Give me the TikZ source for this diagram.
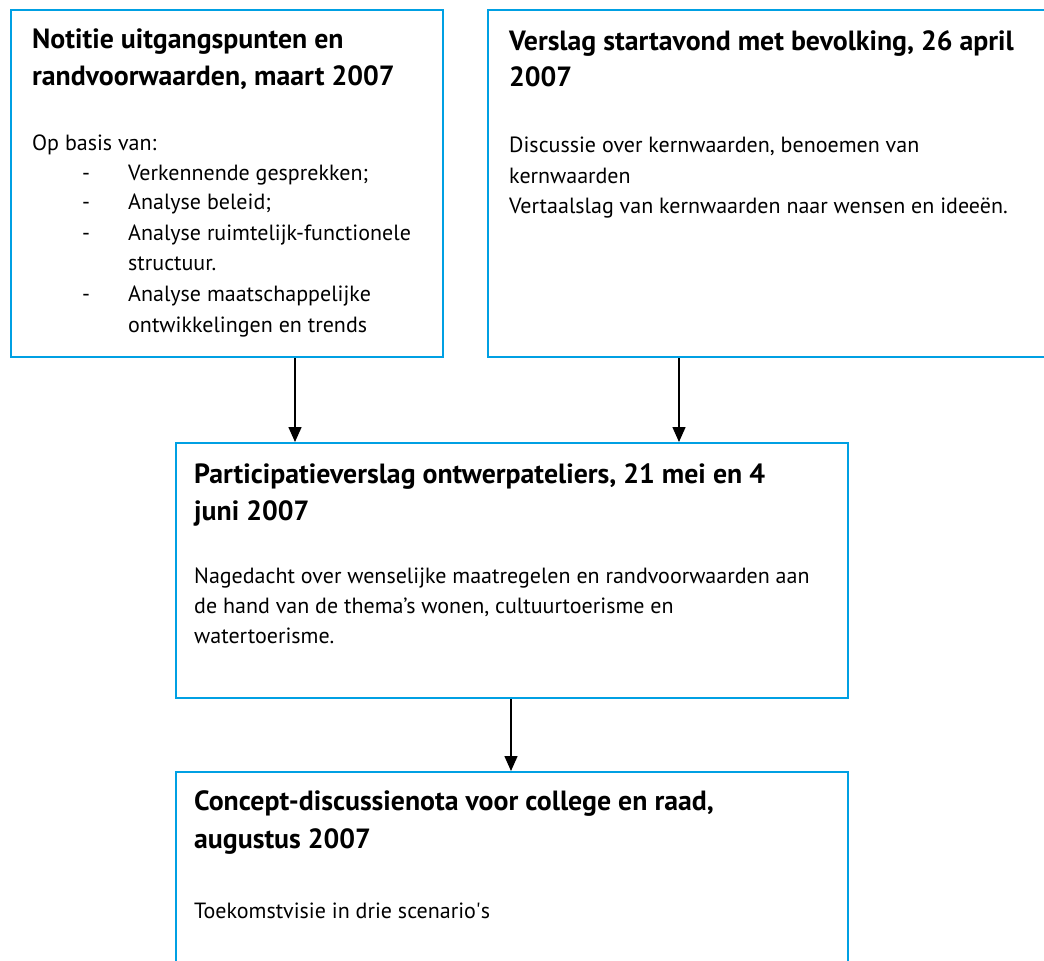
\documentclass[tikz,border=0pt]{standalone}
\usepackage{fontspec}
\setmainfont{PT Sans}
\usetikzlibrary{arrows.meta}
\definecolor{boxblue}{RGB}{0,160,227}
\tikzset{
  box/.style={draw=boxblue, line width=2pt, rectangle, inner sep=0pt, anchor=north west},
  ttl/.style={anchor=base west, inner sep=0pt, font=\fontsize{27.8}{32}\selectfont\bfseries},
  txt/.style={anchor=base west, inner sep=0pt, font=\fontsize{22}{26}\selectfont},
  arr/.style={line width=1.5pt, -{Triangle[width=13pt,length=15pt]}}
}
\begin{document}
\begin{tikzpicture}[x=1pt,y=-1pt]
\useasboundingbox (0,0) rectangle (1044,961);
\clip (0,0) rectangle (1044,961);
% boxes
\node[box, minimum width=432pt, minimum height=347pt] (b1) at (10,9) {};
\node[box, minimum width=580pt, minimum height=347pt] (b2) at (487,9) {};
\node[box, minimum width=672pt, minimum height=255pt] (b3) at (175,442) {};
\node[box, minimum width=672pt, minimum height=230pt] (b4) at (175,771) {};
% box 1
\node[ttl] (t1a) at (32,48) {Notitie uitgangspunten en};
\node[ttl] (t1b) at (32,85) {randvoorwaarden, maart 2007};
\node[txt] (p1a) at (32,150) {Op basis van:};
\node[txt] (d1) at (82,180) {-};
\node[txt] (p1b) at (128,180) {Verkennende gesprekken;};
\node[txt] (d2) at (82,209) {-};
\node[txt] (p1c) at (128,209) {Analyse beleid;};
\node[txt] (d3) at (82,240) {-};
\node[txt] (p1d) at (128,240) {Analyse ruimtelijk-functionele};
\node[txt] (p1e) at (128,270) {structuur.};
\node[txt] (d4) at (82,301) {-};
\node[txt] (p1f) at (128,301) {Analyse maatschappelijke};
\node[txt] (p1g) at (128,332) {ontwikkelingen en trends};
% box 2
\node[ttl] (t2a) at (509,50) {Verslag startavond met bevolking, 26 april};
\node[ttl] (t2b) at (509,86) {2007};
\node[txt] (p2a) at (509,152) {Discussie over kernwaarden, benoemen van};
\node[txt] (p2b) at (509,183) {kernwaarden};
\node[txt] (p2c) at (509,213) {Vertaalslag van kernwaarden naar wensen en ideeën.};
% box 3
\node[ttl] (t3a) at (194,483) {Participatieverslag ontwerpateliers, 21 mei en 4};
\node[ttl] (t3b) at (194,520) {juni 2007};
\node[txt] (p3a) at (194,583) {Nagedacht over wenselijke maatregelen en randvoorwaarden aan};
\node[txt] (p3b) at (194,613) {de hand van de thema’s wonen, cultuurtoerisme en};
\node[txt] (p3c) at (194,643) {watertoerisme.};
% box 4
\node[ttl] (t4a) at (194,810) {Concept-discussienota voor college en raad,};
\node[ttl] (t4b) at (194,848) {augustus 2007};
\node[txt] (p4a) at (194,918) {Toekomstvisie in drie scenario\textquotesingle s};
% arrows
\draw[arr] (b1.south -| 295,0) -- (b3.north -| 295,0);
\draw[arr] (b2.south -| 679,0) -- (b3.north -| 679,0);
\draw[arr] (b3.south -| 511,0) -- (b4.north -| 511,0);
\end{tikzpicture}
\end{document}
